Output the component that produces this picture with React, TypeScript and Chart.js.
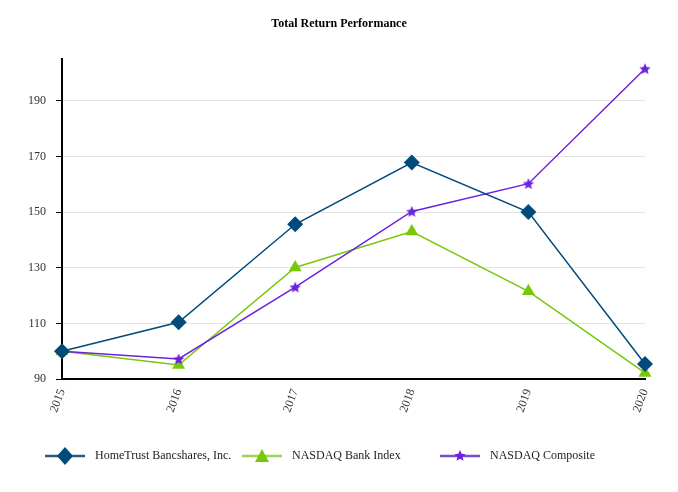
import React, { useEffect, useRef } from "react";
import { Chart, registerables } from "chart.js";

Chart.register(...registerables);

const categories = ["2015", "2016", "2017", "2018", "2019", "2020"];
const homeTrust = [100, 110.4, 145.6, 167.8, 150, 95.4];
const bankIndex = [100, 95, 130.1, 143, 121.5, 92.2];
const composite = [100, 97.2, 123, 150.2, 160.2, 201.5];
const yTicks = [90, 110, 130, 150, 170, 190];

const BLUE = "#004a7c";
const GREEN = "#78c80a";
const PURPLE = "#6a22de";
const FONT = "'Liberation Serif', 'Times New Roman', serif";

function makeStar(color: string, r: number): HTMLCanvasElement {
  const c = document.createElement("canvas");
  const s = Math.ceil(r * 2 + 2);
  c.width = s;
  c.height = s;
  const ctx = c.getContext("2d")!;
  drawStar(ctx, s / 2, s / 2 + 0.5, r, color);
  return c;
}

function drawStar(ctx: CanvasRenderingContext2D, cx: number, cy: number, r: number, color: string) {
  ctx.save();
  ctx.beginPath();
  for (let i = 0; i < 10; i++) {
    const rad = i % 2 === 0 ? r : r * 0.45;
    const a = -Math.PI / 2 + (i * Math.PI) / 5;
    const x = cx + rad * Math.cos(a);
    const y = cy + rad * Math.sin(a);
    if (i === 0) ctx.moveTo(x, y);
    else ctx.lineTo(x, y);
  }
  ctx.closePath();
  ctx.fillStyle = color;
  ctx.fill();
  ctx.restore();
}

const overlayPlugin = {
  id: "overlay",
  afterDraw(chart: any) {
    const ctx: CanvasRenderingContext2D = chart.ctx;
    ctx.save();
    // title
    ctx.fillStyle = "#000";
    ctx.font = `bold 12px ${FONT}`;
    ctx.textAlign = "center";
    ctx.textBaseline = "middle";
    ctx.fillText("Total Return Performance", chart.width / 2, 24);

    // legend
    const y = 456;
    const items = [
      { x: 45, label: "HomeTrust Bancshares, Inc.", color: BLUE, lineColor: "#2a5b87", m: "diamond" },
      { x: 242, label: "NASDAQ Bank Index", color: GREEN, lineColor: "#9bd45a", m: "triangle" },
      { x: 440, label: "NASDAQ Composite", color: PURPLE, lineColor: "#7c4fd0", m: "star" },
    ];
    ctx.font = `12px ${FONT}`;
    ctx.textAlign = "left";
    for (const it of items) {
      ctx.strokeStyle = it.lineColor;
      ctx.lineWidth = 2.5;
      ctx.beginPath();
      ctx.moveTo(it.x, y);
      ctx.lineTo(it.x + 40, y);
      ctx.stroke();
      const cx = it.x + 20;
      ctx.fillStyle = it.color;
      if (it.m === "diamond") {
        ctx.beginPath();
        ctx.moveTo(cx, y - 9);
        ctx.lineTo(cx + 8, y);
        ctx.lineTo(cx, y + 9);
        ctx.lineTo(cx - 8, y);
        ctx.closePath();
        ctx.fill();
      } else if (it.m === "triangle") {
        ctx.beginPath();
        ctx.moveTo(cx, y - 7);
        ctx.lineTo(cx + 7, y + 6);
        ctx.lineTo(cx - 7, y + 6);
        ctx.closePath();
        ctx.fill();
      } else {
        drawStar(ctx, cx, y, 6, it.color);
      }
      ctx.fillStyle = "#222";
      ctx.fillText(it.label, it.x + 50, y);
    }
    ctx.restore();
  },
};

export default function App() {
  const ref = useRef<HTMLCanvasElement | null>(null);

  useEffect(() => {
    document.body.style.margin = "0";
    if (!ref.current) return;
    const star = makeStar(PURPLE, 6);
    const chart = new Chart(ref.current, {
      type: "line",
      data: {
        labels: categories,
        datasets: [
          {
            label: "HomeTrust Bancshares, Inc.",
            data: homeTrust,
            borderColor: BLUE,
            backgroundColor: BLUE,
            borderWidth: 1.5,
            pointStyle: "rectRot",
            pointRadius: 8,
            pointBorderWidth: 0,
            tension: 0,
            order: 1,
          },
          {
            label: "NASDAQ Bank Index",
            data: bankIndex,
            borderColor: GREEN,
            backgroundColor: GREEN,
            borderWidth: 1.5,
            pointStyle: "triangle",
            pointRadius: 7.5,
            pointBorderWidth: 0,
            tension: 0,
            order: 3,
          },
          {
            label: "NASDAQ Composite",
            data: composite,
            borderColor: PURPLE,
            backgroundColor: PURPLE,
            borderWidth: 1.5,
            pointStyle: star as any,
            pointRadius: 6,
            tension: 0,
            order: 2,
          },
        ],
      },
      options: {
        animation: false,
        responsive: false,
        maintainAspectRatio: false,
        layout: { padding: { top: 59, right: 33, bottom: 72, left: 0 } },
        plugins: {
          legend: { display: false },
          title: { display: false },
          tooltip: { enabled: false },
        },
        scales: {
          x: {
            offset: false,
            grid: { display: false, drawTicks: true, tickLength: 6, tickColor: "#000" } as any,
            border: { display: true, color: "#000", width: 2 },
            ticks: {
              color: "#333",
              font: { family: FONT, size: 12 },
              minRotation: 70,
              maxRotation: 70,
              padding: 2,
            },
            afterFit: (s: any) => {
              s.height = 41;
            },
          },
          y: {
            min: 90,
            max: 205,
            grid: { color: "#e3e3e3", lineWidth: 1, tickLength: 6, tickColor: "#000" } as any,
            border: { display: true, color: "#000", width: 2 },
            ticks: {
              color: "#333",
              font: { family: FONT, size: 12 },
              padding: 10,
            },
            afterBuildTicks: (s: any) => {
              s.ticks = yTicks.map((v) => ({ value: v }));
            },
            afterFit: (s: any) => {
              s.width = 62;
            },
          },
        },
      },
      plugins: [overlayPlugin],
    });
    return () => chart.destroy();
  }, []);

  return (
    <div style={{ width: 678, height: 492, position: "relative" }}>
      <canvas ref={ref} width={678} height={492} style={{ width: 678, height: 492 }} />
    </div>
  );
}
